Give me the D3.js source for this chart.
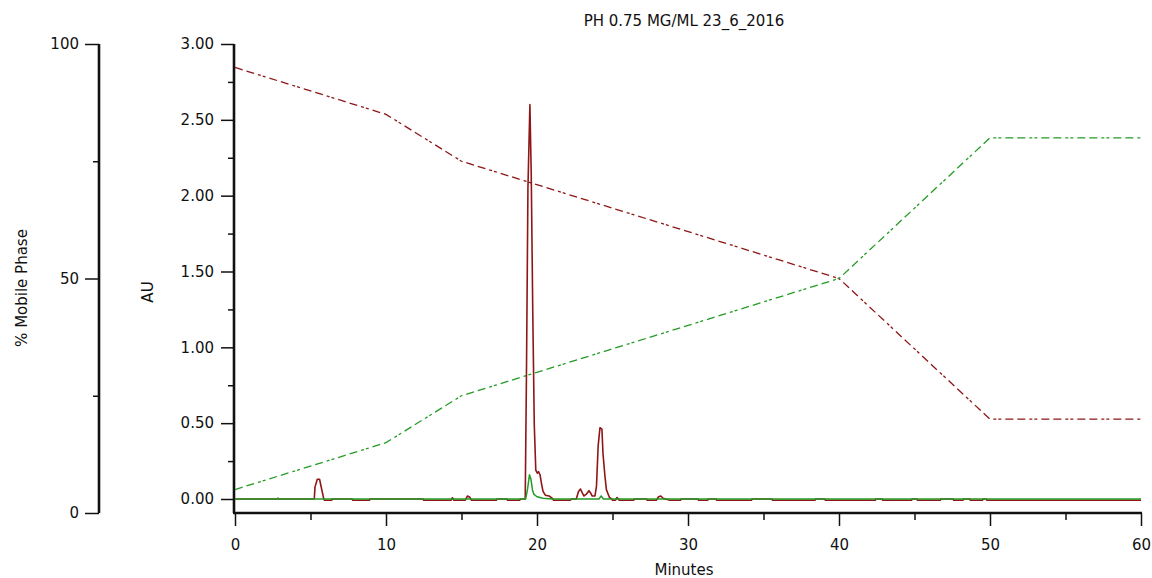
<!DOCTYPE html>
<html>
<head>
<meta charset="utf-8">
<script src="https://cdn.jsdelivr.net/npm/d3@7"></script>
<style>
  body { margin: 0; background: #fff; }
  svg text { font-family: "DejaVu Sans", sans-serif; font-size: 15px; fill: #111; }
</style>
</head>
<body>
<svg id="chart" width="1152" height="578"></svg>
<script>
// Run title and axis tick values
const chartTitle = "PH 0.75 MG/ML 23_6_2016";
const minuteTicks = [0, 10, 20, 30, 40, 50, 60];
const minuteMinorTicks = [5, 15, 25, 35, 45, 55];
const auTicks = [0, 0.5, 1, 1.5, 2, 2.5, 3];
const auMinorTicks = [0.25, 0.75, 1.25, 1.75, 2.25, 2.75];
const phaseTicks = [0, 50, 100];
const phaseMinorTicks = [25, 75];

// Gradient program: time (min) and % of each mobile phase
const gradientTime = [0, 10, 15, 40, 50, 60];
const solventA = [95, 85, 75, 50, 20, 20];
const solventB = [5, 15, 25, 50, 80, 80];

// Detector traces: [time (min), absorbance (AU)]
const traceRed = [
  [0, 0], [5.25, 0], [5.3, 0.08], [5.45, 0.13], [5.6, 0.13], [5.75, 0.06], [5.88, 0],
  [5.92, -0.008], [6.4, -0.008], [6.45, 0],
  [7.75, 0], [7.8, -0.008], [8.9, -0.008], [8.95, 0],
  [12.45, 0], [12.5, -0.008], [14.3, -0.008], [14.4, 0.008], [14.5, -0.008], [15.25, -0.008],
  [15.4, 0.02], [15.55, 0.012], [15.65, -0.008], [17.3, -0.008], [17.35, 0],
  [18.0, 0], [18.05, -0.008], [18.85, -0.008], [18.9, 0],
  [19.22, 0], [19.3, 0.8], [19.4, 2.05], [19.53, 2.6], [19.62, 2.13], [19.72, 1.23],
  [19.82, 0.49], [19.92, 0.19], [20.02, 0.17], [20.1, 0.18], [20.2, 0.16], [20.3, 0.1],
  [20.4, 0.05], [20.55, 0.025], [20.8, 0.02], [21.0, 0.005], [21.1, -0.008], [22.2, -0.008], [22.3, 0],
  [22.6, 0], [22.75, 0.05], [22.88, 0.066], [23.0, 0.04], [23.1, 0.02], [23.25, 0.03],
  [23.44, 0.055], [23.55, 0.04], [23.65, 0.02], [23.84, 0.02], [23.94, 0.085], [24.05, 0.35],
  [24.17, 0.47], [24.3, 0.46], [24.37, 0.3], [24.5, 0.15], [24.6, 0.06], [24.8, 0.01], [24.95, 0],
  [25.0, -0.008], [25.2, -0.008], [25.3, 0.01], [25.45, -0.008], [26.4, -0.008], [26.45, 0],
  [27.25, 0], [27.3, -0.008], [27.9, -0.008], [28.05, 0.015], [28.2, 0.02], [28.35, 0.005],
  [28.8, -0.008], [29.5, -0.008], [29.55, 0],
  [30.65, 0], [30.7, -0.008], [31.3, -0.008], [31.35, 0], [31.85, 0], [31.9, -0.008], [34.2, -0.008],
  [34.25, 0], [35.55, 0], [35.6, -0.008], [38.4, -0.008], [38.45, 0], [39.05, 0], [39.1, -0.008],
  [42.4, -0.008], [42.45, 0], [42.85, 0], [42.9, -0.008], [44.8, -0.008], [44.85, 0], [45.15, 0],
  [45.2, -0.008], [46.7, -0.008], [46.75, 0], [47.55, 0], [47.6, -0.008], [48.2, -0.008], [48.25, 0],
  [48.65, 0], [48.7, -0.008], [49.5, -0.008], [49.55, 0], [49.75, 0], [49.8, -0.008], [60, -0.008]
];
const traceGreen = [
  [0, 0], [2.8, 0], [2.85, 0.006], [2.9, 0], [19.25, 0], [19.38, 0.07], [19.5, 0.16], [19.6, 0.13],
  [19.7, 0.06], [19.8, 0.03], [20.0, 0.015], [20.4, 0.005], [21.0, 0],
  [24.1, 0], [24.25, 0.02], [24.4, 0], [60, 0]
];

const red = "#8e1616";
const green = "#259b25";
const ink = "#111";

const svg = d3.select("#chart");

// Scales
const x = d3.scaleLinear().domain([0, 60]).range([235, 1141]);
const yAU = d3.scaleLinear().domain([0, 3]).range([499, 44]);
const yPct = d3.scaleLinear().domain([0, 100]).range([513, 44]);

const auAxisX = 234;
const pctAxisX = 99;
const baseY = 513;

function styleAxis(g) {
  g.select(".domain").remove();
  g.selectAll(".tick line").attr("stroke", ink).attr("stroke-width", 1.5);
  g.selectAll(".tick text").attr("fill", ink).style("font-size", "15px")
    .style("font-family", "\"DejaVu Sans\", sans-serif");
}

// % Mobile Phase axis
svg.append("g").attr("transform", `translate(${pctAxisX},0)`)
  .call(d3.axisLeft(yPct).tickValues(phaseTicks).tickFormat(d3.format("d"))
    .tickSize(14).tickPadding(6))
  .call(styleAxis);
svg.append("g").attr("transform", `translate(${pctAxisX},0)`)
  .call(d3.axisLeft(yPct).tickValues(phaseMinorTicks).tickFormat("").tickSize(6))
  .call(styleAxis);
svg.append("line")
  .attr("x1", pctAxisX).attr("x2", pctAxisX)
  .attr("y1", yPct(100)).attr("y2", yPct(0))
  .attr("stroke", ink).attr("stroke-width", 2.6);

// AU axis
svg.append("g").attr("transform", `translate(${auAxisX},0)`)
  .call(d3.axisLeft(yAU).tickValues(auTicks).tickFormat(d3.format(".2f"))
    .tickSize(13).tickPadding(7))
  .call(styleAxis);
svg.append("g").attr("transform", `translate(${auAxisX},0)`)
  .call(d3.axisLeft(yAU).tickValues(auMinorTicks).tickFormat("").tickSize(6))
  .call(styleAxis);
svg.append("line")
  .attr("x1", auAxisX).attr("x2", auAxisX)
  .attr("y1", yAU(3)).attr("y2", baseY)
  .attr("stroke", ink).attr("stroke-width", 2.6);

// Time axis
svg.append("g").attr("transform", `translate(0,${baseY})`)
  .call(d3.axisBottom(x).tickValues(minuteTicks).tickFormat(d3.format("d"))
    .tickSize(13).tickPadding(13))
  .call(styleAxis);
svg.append("g").attr("transform", `translate(0,${baseY})`)
  .call(d3.axisBottom(x).tickValues(minuteMinorTicks).tickFormat("").tickSize(7))
  .call(styleAxis);
svg.append("line")
  .attr("x1", auAxisX - 1).attr("x2", x(60) + 1)
  .attr("y1", baseY).attr("y2", baseY)
  .attr("stroke", ink).attr("stroke-width", 2.6);

// Gradient profiles (dashed)
const gradLine = d3.line().x(d => x(d[0])).y(d => yPct(d[1]));
const dash = "8,4,8,4,3,2,3,4";
svg.append("path")
  .datum(gradientTime.map((t, i) => [t, solventA[i]]))
  .attr("d", gradLine).attr("fill", "none")
  .attr("stroke", red).attr("stroke-width", 1.3).attr("stroke-dasharray", dash);
svg.append("path")
  .datum(gradientTime.map((t, i) => [t, solventB[i]]))
  .attr("d", gradLine).attr("fill", "none")
  .attr("stroke", green).attr("stroke-width", 1.3).attr("stroke-dasharray", dash);

// Absorbance traces
const traceLine = d3.line().x(d => x(d[0])).y(d => yAU(d[1]));
svg.append("path").datum(traceRed).attr("d", traceLine).attr("fill", "none")
  .attr("stroke", red).attr("stroke-width", 1.6).attr("stroke-linejoin", "round");
svg.append("path").datum(traceGreen).attr("d", traceLine).attr("fill", "none")
  .attr("stroke", green).attr("stroke-width", 1.5).attr("stroke-linejoin", "round");

// Titles
svg.append("text").attr("x", 684).attr("y", 26).attr("text-anchor", "middle").text(chartTitle);
svg.append("text").attr("x", 684).attr("y", 575).attr("text-anchor", "middle").text("Minutes");
svg.append("text").attr("transform", "translate(27,288) rotate(-90)")
  .attr("text-anchor", "middle").text("% Mobile Phase");
svg.append("text").attr("transform", "translate(153,292) rotate(-90)")
  .attr("text-anchor", "middle").text("AU");
</script>
</body>
</html>
